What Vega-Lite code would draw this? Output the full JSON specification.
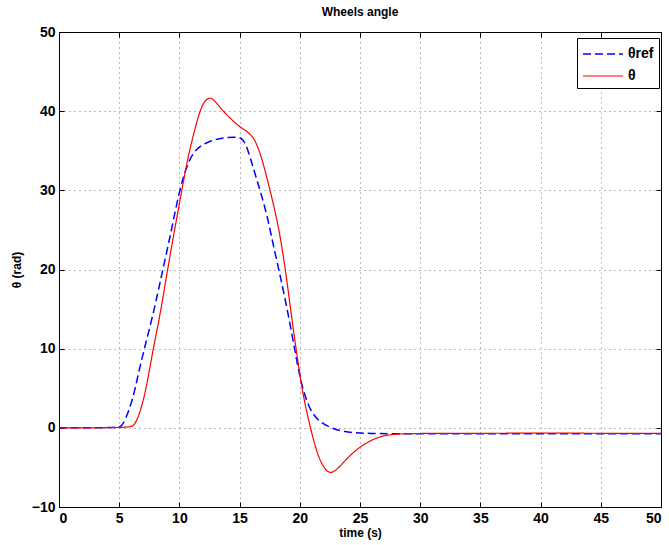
{
  "$schema": "https://vega.github.io/schema/vega-lite/v6.json",
  "width": 602,
  "height": 475,
  "autosize": {"type": "none"},
  "padding": {"left": 59, "top": 32, "right": 8, "bottom": 38},
  "background": "white",
  "title": {"text": "Wheels angle", "font": "Liberation Sans", "fontSize": 12, "fontWeight": "bold", "color": "black", "offset": 6, "baseline": "bottom", "dy": 12},
  "config": {
    "view": {"stroke": "black", "strokeWidth": 1},
    "axis": {
      "labelFont": "Liberation Sans", "labelFontSize": 14, "labelFontWeight": "bold", "labelColor": "black",
      "titleFont": "Liberation Sans", "titleFontSize": 12, "titleFontWeight": "bold", "titleColor": "black",
      "domainColor": "black", "tickColor": "black", "tickSize": -5, "labelPadding": 9,
      "grid": true, "gridColor": "#000", "gridOpacity": 0.55, "gridDash": [1, 4], "gridWidth": 1
    },
    "legend": {
      "labelFont": "Liberation Sans", "labelFontSize": 14, "labelFontWeight": "bold", "labelColor": "black"
    }
  },
  "data": {"values": [
    {"t": 0, "v": 0, "s": "θref"},
    {"t": 4.9, "v": 0, "s": "θref"},
    {"t": 5.2, "v": 0.2, "s": "θref"},
    {"t": 5.5, "v": 1.0, "s": "θref"},
    {"t": 6.1, "v": 3.4, "s": "θref"},
    {"t": 6.6, "v": 6.9, "s": "θref"},
    {"t": 7.1, "v": 10.1, "s": "θref"},
    {"t": 7.7, "v": 13.6, "s": "θref"},
    {"t": 8.2, "v": 17.0, "s": "θref"},
    {"t": 8.5, "v": 19.1, "s": "θref"},
    {"t": 8.8, "v": 21.2, "s": "θref"},
    {"t": 9.4, "v": 25.4, "s": "θref"},
    {"t": 10.0, "v": 30.0, "s": "θref"},
    {"t": 10.7, "v": 33.6, "s": "θref"},
    {"t": 11.4, "v": 35.3, "s": "θref"},
    {"t": 12.3, "v": 36.1, "s": "θref"},
    {"t": 13.4, "v": 36.6, "s": "θref"},
    {"t": 14.8, "v": 36.8, "s": "θref"},
    {"t": 15.3, "v": 36.5, "s": "θref"},
    {"t": 15.7, "v": 35.1, "s": "θref"},
    {"t": 16.1, "v": 33.0, "s": "θref"},
    {"t": 16.7, "v": 30.0, "s": "θref"},
    {"t": 17.3, "v": 26.8, "s": "θref"},
    {"t": 17.8, "v": 23.0, "s": "θref"},
    {"t": 18.4, "v": 19.1, "s": "θref"},
    {"t": 19.3, "v": 12.4, "s": "θref"},
    {"t": 20.0, "v": 6.1, "s": "θref"},
    {"t": 20.7, "v": 2.7, "s": "θref"},
    {"t": 21.4, "v": 1.0, "s": "θref"},
    {"t": 22.5, "v": 0.0, "s": "θref"},
    {"t": 23.6, "v": -0.5, "s": "θref"},
    {"t": 25.5, "v": -0.75, "s": "θref"},
    {"t": 30, "v": -0.75, "s": "θref"},
    {"t": 40, "v": -0.75, "s": "θref"},
    {"t": 50, "v": -0.75, "s": "θref"},
    {"t": 0, "v": 0, "s": "θ"},
    {"t": 5.9, "v": 0, "s": "θ"},
    {"t": 6.2, "v": 0.3, "s": "θ"},
    {"t": 6.5, "v": 1.0, "s": "θ"},
    {"t": 7.0, "v": 3.3, "s": "θ"},
    {"t": 7.4, "v": 6.3, "s": "θ"},
    {"t": 7.8, "v": 9.8, "s": "θ"},
    {"t": 8.4, "v": 14.3, "s": "θ"},
    {"t": 8.9, "v": 18.9, "s": "θ"},
    {"t": 9.5, "v": 24.2, "s": "θ"},
    {"t": 10.2, "v": 30.0, "s": "θ"},
    {"t": 10.7, "v": 34.2, "s": "θ"},
    {"t": 11.5, "v": 39.1, "s": "θ"},
    {"t": 12.0, "v": 41.2, "s": "θ"},
    {"t": 12.5, "v": 41.8, "s": "θ"},
    {"t": 12.9, "v": 41.4, "s": "θ"},
    {"t": 13.5, "v": 40.2, "s": "θ"},
    {"t": 14.3, "v": 39.0, "s": "θ"},
    {"t": 15.0, "v": 38.0, "s": "θ"},
    {"t": 15.9, "v": 37.2, "s": "θ"},
    {"t": 16.4, "v": 36.0, "s": "θ"},
    {"t": 16.9, "v": 33.8, "s": "θ"},
    {"t": 17.5, "v": 30.2, "s": "θ"},
    {"t": 18.0, "v": 27.0, "s": "θ"},
    {"t": 18.4, "v": 24.0, "s": "θ"},
    {"t": 18.9, "v": 19.0, "s": "θ"},
    {"t": 19.4, "v": 13.0, "s": "θ"},
    {"t": 19.9, "v": 7.8, "s": "θ"},
    {"t": 20.3, "v": 3.8, "s": "θ"},
    {"t": 21.0, "v": -0.8, "s": "θ"},
    {"t": 21.5, "v": -3.5, "s": "θ"},
    {"t": 22.0, "v": -5.1, "s": "θ"},
    {"t": 22.5, "v": -5.8, "s": "θ"},
    {"t": 23.0, "v": -5.4, "s": "θ"},
    {"t": 23.6, "v": -4.4, "s": "θ"},
    {"t": 24.3, "v": -3.3, "s": "θ"},
    {"t": 25.0, "v": -2.4, "s": "θ"},
    {"t": 26.0, "v": -1.5, "s": "θ"},
    {"t": 26.7, "v": -1.1, "s": "θ"},
    {"t": 27.5, "v": -0.85, "s": "θ"},
    {"t": 28.5, "v": -0.75, "s": "θ"},
    {"t": 30, "v": -0.7, "s": "θ"},
    {"t": 35, "v": -0.7, "s": "θ"},
    {"t": 41, "v": -0.65, "s": "θ"},
    {"t": 45, "v": -0.7, "s": "θ"},
    {"t": 50, "v": -0.7, "s": "θ"}
  ]},
  "layer": [
    {
      "mark": {"type": "line", "interpolate": "basis"},
      "encoding": {
        "x": {"field": "t", "type": "quantitative", "title": "time (s)", "scale": {"domain": [0, 50], "nice": false}, "axis": {"values": [0,5,10,15,20,25,30,35,40,45,50], "titlePadding": 2}},
        "y": {"field": "v", "type": "quantitative", "title": "θ (rad)", "scale": {"domain": [-10, 50], "nice": false}, "axis": {"values": [-10,0,10,20,30,40,50], "titlePadding": 8}},
        "color": {"field": "s", "type": "nominal", "scale": {"domain": ["θref", "θ"], "range": ["#0000ff", "#ff0000"]},
          "legend": {"title": null, "orient": "none", "legendX": 518, "legendY": 6, "strokeColor": "black", "fillColor": "white", "padding": 5, "symbolType": "M-1,0H3", "symbolSize": 400, "symbolStrokeWidth": 2, "rowPadding": 4, "labelOffset": 24}},
        "strokeDash": {"field": "s", "type": "nominal", "scale": {"domain": ["θref", "θ"], "range": [[8, 4], [1, 0]]},
          "legend": {"title": null, "orient": "none", "legendX": 518, "legendY": 6, "strokeColor": "black", "fillColor": "white", "padding": 5, "symbolType": "M-1,0H3", "symbolSize": 400, "symbolStrokeWidth": 2, "rowPadding": 4, "labelOffset": 24}},
        "strokeWidth": {"field": "s", "type": "nominal", "scale": {"domain": ["θref", "θ"], "range": [1.5, 1.2]}, "legend": null}
      }
    },
    {
      "mark": {"type": "line", "opacity": 0},
      "encoding": {
        "x": {"field": "t", "type": "quantitative", "axis": {"orient": "top", "values": [0,5,10,15,20,25,30,35,40,45,50], "labels": false, "grid": false, "title": null, "domain": false}},
        "y": {"field": "v", "type": "quantitative", "axis": {"orient": "right", "values": [-10,0,10,20,30,40,50], "labels": false, "grid": false, "title": null, "domain": false}},
        "detail": {"field": "s"}
      }
    }
  ],
  "resolve": {"axis": {"x": "independent", "y": "independent"}}
}
